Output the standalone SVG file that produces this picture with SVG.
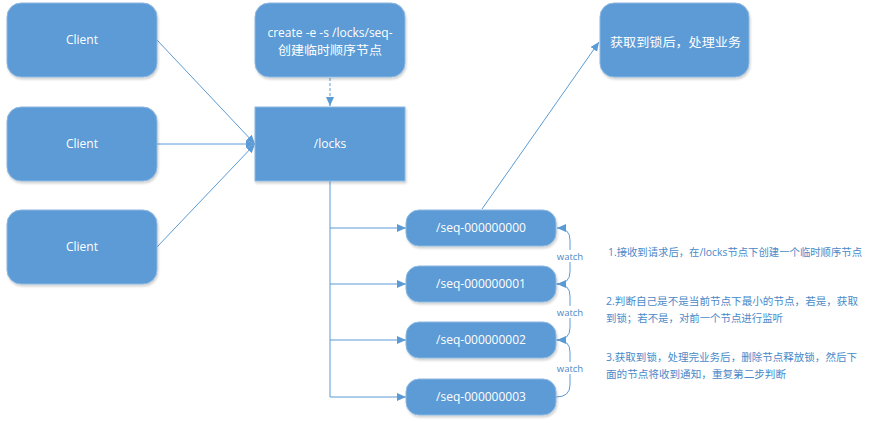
<svg xmlns="http://www.w3.org/2000/svg" width="873" height="424" viewBox="0 0 873 424">
<style>
.box{fill:#5B9BD5;stroke:#8DB8E2;stroke-width:1;filter:url(#sh)}
.t{fill:#fff;font-family:"Open Sans","Noto Sans CJK SC",sans-serif;font-size:12px;text-anchor:middle}
.c{fill:none;stroke:#5B9BD5;stroke-width:1}
.w{fill:#4A89C8;font-family:"Open Sans",sans-serif;font-size:9.5px;text-anchor:middle}
.n{fill:#4A89C8;font-family:"Open Sans","Noto Sans CJK SC",sans-serif;font-size:10.5px}
</style>
<defs>
<filter id="sh" x="-10%" y="-10%" width="125%" height="130%">
<feDropShadow dx="1" dy="2" stdDeviation="1.2" flood-color="#000" flood-opacity="0.18"/>
</filter>
<marker id="a" markerUnits="userSpaceOnUse" markerWidth="10" markerHeight="10" refX="9" refY="5" orient="auto">
<path d="M0,1 L9,5 L0,9 Z" fill="#5B9BD5"/>
</marker>
</defs>
<rect width="873" height="424" fill="#fff"/>
<g id="connectors">
<line class="c" x1="157" y1="40" x2="255" y2="144" marker-end="url(#a)"/>
<line class="c" x1="157" y1="144" x2="255" y2="144" marker-end="url(#a)"/>
<line class="c" x1="157" y1="247" x2="255" y2="144" marker-end="url(#a)"/>
<line class="c" x1="330" y1="78" x2="330" y2="106" stroke-dasharray="3,2" marker-end="url(#a)"/>
<path class="c" d="M330,181 V397"/>
<line class="c" x1="330" y1="228" x2="406" y2="228" marker-end="url(#a)"/>
<line class="c" x1="330" y1="284" x2="406" y2="284" marker-end="url(#a)"/>
<line class="c" x1="330" y1="340" x2="406" y2="340" marker-end="url(#a)"/>
<line class="c" x1="330" y1="397" x2="406" y2="397" marker-end="url(#a)"/>
<line class="c" x1="482" y1="209" x2="599" y2="42" marker-end="url(#a)"/>
<path class="c" d="M556,284 Q570,284 570,272 V240 Q570,228 557,228" marker-end="url(#a)"/>
<path class="c" d="M556,340 Q570,340 570,328 V296 Q570,284 557,284" marker-end="url(#a)"/>
<path class="c" d="M556,397 Q570,397 570,385 V352 Q570,340 557,340" marker-end="url(#a)"/>
<rect x="555" y="250" width="30" height="12" fill="#fff"/>
<rect x="555" y="306" width="30" height="12" fill="#fff"/>
<rect x="555" y="362" width="30" height="12" fill="#fff"/>
<text class="w" x="570" y="260">watch</text>
<text class="w" x="570" y="316">watch</text>
<text class="w" x="570" y="372">watch</text>
</g>
<g id="client1"><rect class="box" x="7" y="3" width="150" height="74" rx="14"/><text class="t" x="82" y="44">Client</text></g>
<g id="client2"><rect class="box" x="7" y="107" width="150" height="74" rx="14"/><text class="t" x="82" y="148">Client</text></g>
<g id="client3"><rect class="box" x="7" y="210" width="150" height="74" rx="14"/><text class="t" x="82" y="251">Client</text></g>
<g id="create"><rect class="box" x="255" y="3" width="150" height="74" rx="14"/><text class="t" x="330" y="37">create -e -s /locks/seq-</text><text class="t" x="330" y="55" font-size="13" textLength="104" lengthAdjust="spacingAndGlyphs">创建临时顺序节点</text></g>
<g id="locks"><rect class="box" x="255" y="107" width="150" height="74"/><text class="t" x="330" y="148">/locks</text></g>
<g id="result"><rect class="box" x="600" y="3" width="149" height="74" rx="14"/><text class="t" x="675.5" y="47" font-size="13.5" textLength="131" lengthAdjust="spacingAndGlyphs">获取到锁后，处理业务</text></g>
<g id="seq0"><rect class="box" x="406" y="210" width="150" height="36" rx="13"/><text class="t" x="481" y="232">/seq-000000000</text></g>
<g id="seq1"><rect class="box" x="406" y="266" width="150" height="36" rx="13"/><text class="t" x="481" y="288">/seq-000000001</text></g>
<g id="seq2"><rect class="box" x="406" y="322" width="150" height="36" rx="13"/><text class="t" x="481" y="344">/seq-000000002</text></g>
<g id="seq3"><rect class="box" x="406" y="379" width="150" height="36" rx="13"/><text class="t" x="481" y="401">/seq-000000003</text></g>
<g id="notes">
<text class="n" x="608" y="256" textLength="254" lengthAdjust="spacingAndGlyphs">1.接收到请求后，在/locks节点下创建一个临时顺序节点</text>
<text class="n" x="606" y="305" textLength="252" lengthAdjust="spacingAndGlyphs">2.判断自己是不是当前节点下最小的节点，若是，获取</text>
<text class="n" x="606" y="322" textLength="177" lengthAdjust="spacingAndGlyphs">到锁；若不是，对前一个节点进行监听</text>
<text class="n" x="606" y="361" textLength="251" lengthAdjust="spacingAndGlyphs">3.获取到锁，处理完业务后，删除节点释放锁，然后下</text>
<text class="n" x="606" y="378" textLength="180" lengthAdjust="spacingAndGlyphs">面的节点将收到通知，重复第二步判断</text>
</g>
</svg>
